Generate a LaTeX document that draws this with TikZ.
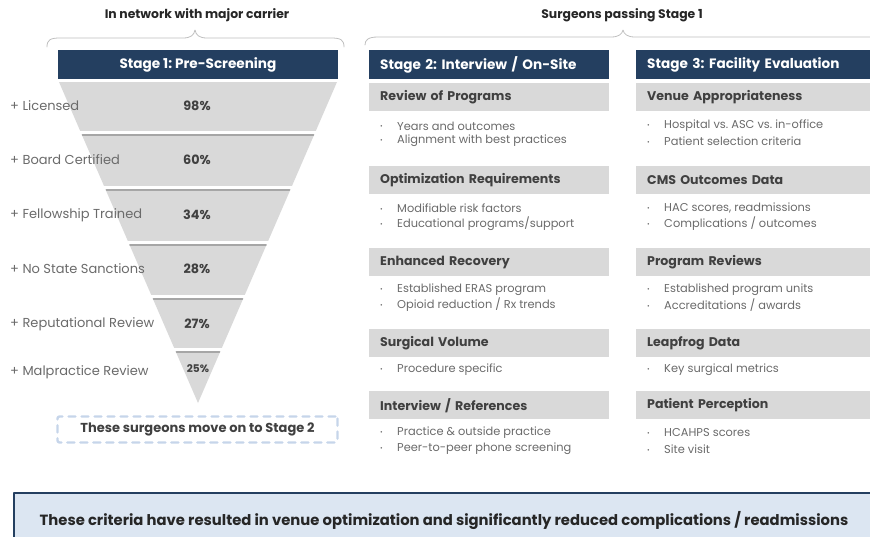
\documentclass[tikz,border=0pt]{standalone}
\usepackage{fontspec}
\setmainfont{Poppins}
\usepackage{xcolor}
\usepackage{tikz}
\usetikzlibrary{positioning}
\frenchspacing
\definecolor{navy}{HTML}{243F60}
\definecolor{panel}{HTML}{D9D9D9}
\definecolor{ink}{HTML}{404040}
\definecolor{soft}{HTML}{6A6A6A}
\definecolor{brace}{HTML}{BFBFBF}
\definecolor{dash}{HTML}{C6D5EA}
\definecolor{note}{HTML}{DCE6F2}
\tikzset{
  TopTitle/.style={font=\bfseries\fontsize{12.4}{14}\selectfont, text=black!85},
  StageHead/.style={fill=navy, text=white, font=\bfseries\fontsize{13.6}{15}\selectfont,
    minimum height=29pt, inner sep=0pt},
  SubHead/.style={fill=panel, text=ink, font=\bfseries\fontsize{12.6}{14}\selectfont,
    anchor=north west, minimum height=28pt, text width=218pt, inner xsep=11pt,
    inner ysep=0pt, align=left},
  Crit/.style={anchor=west, text=soft, font=\fontsize{13}{15}\selectfont, inner sep=0pt},
  Pct/.style={text=ink, font=\bfseries\fontsize{12.8}{14}\selectfont, inner sep=0pt},
  Item/.style={anchor=west, text=soft, font=\fontsize{11.4}{13}\selectfont, inner sep=0pt},
  Brace/.style={draw=brace, line width=0.8pt}
}
\newcommand{\BulletItem}[4]{%
  % #1 = node name, #2 = x of bullet, #3 = y, #4 = text
  \node[Item] (#1) at (#2,#3) {\makebox[17pt][l]{\raisebox{1.2pt}{\fontsize{6.5}{6}\selectfont\textbullet}}#4};
}

\begin{document}
\begin{tikzpicture}[x=1pt, y=-1pt, line cap=round, line join=round]
  \useasboundingbox (0,0) rectangle (870,536);

  % column titles and braces
  \node[TopTitle] (net) at (197,15) {In network with major carrier};
  \node[TopTitle] (pass) at (622,15) {Surgeons passing Stage 1};
  \draw[Brace] (47,47) .. controls (47,40) and (50,38) .. (60,38) -- (183,38)
    .. controls (191,38) and (194,35) .. (195,30) .. controls (196,35) and (199,38) .. (207,38)
    -- (331,38) .. controls (341,38) and (344,40) .. (344,47);
  \draw[Brace] (365,45) .. controls (365,40) and (368,37) .. (378,37) -- (611,37)
    .. controls (619,37) and (622,34) .. (623,30) .. controls (624,34) and (627,37) .. (635,37)
    -- (875,37);

  % stage 1 funnel
  \node[StageHead, minimum width=280pt] (s1) at (198,64.5) {Stage 1: Pre-Screening};
  \coordinate (TL) at (59,82);
  \coordinate (TR) at (337,82);
  \coordinate (tip) at (198,403);
  \fill[panel] (TL) -- (TR) -- (tip) -- cycle;
  % gaps between the funnel bands
  \draw[gray!70, line width=1.4pt] (82.5,135) -- (313.5,135);
  \draw[white, line width=2.4pt] (80,132.5) -- (317,132.5);
  \draw[gray!70, line width=1.4pt] (106.5,190) -- (289.5,190);
  \draw[white, line width=2.4pt] (104,187.5) -- (293,187.5);
  \draw[gray!70, line width=1.4pt] (130,245) -- (266,245);
  \draw[white, line width=2.4pt] (128,242.5) -- (269,242.5);
  \draw[gray!70, line width=1.4pt] (153.5,299) -- (242.5,299);
  \draw[white, line width=2.4pt] (151,296.5) -- (245,296.5);
  \draw[gray!70, line width=1.4pt] (176.5,352) -- (219.5,352);
  \draw[white, line width=2.4pt] (173,349.5) -- (222,349.5);

  \node[Crit] (lic) at (10,106) {+ Licensed};
  \node[Crit] (board) at (10,160) {+ Board Certified};
  \node[Crit] (fell) at (10,215) {+ Fellowship Trained};
  \node[Crit] (sanc) at (10,269) {+ No State Sanctions};
  \node[Crit] (rep) at (10,324) {+ Reputational Review};
  \node[Crit] (mal) at (10,372) {+ Malpractice Review};

  \node[Pct] (p98) at (197,106) {98\%};
  \node[Pct] (p60) at (197,160) {60\%};
  \node[Pct] (p34) at (197,215) {34\%};
  \node[Pct] (p28) at (197,269) {28\%};
  \node[Pct] (p27) at (197,324) {27\%};
  \node[Pct, font=\bfseries\fontsize{10.6}{12}\selectfont] (p25) at (198,369) {25\%};

  \node[draw=dash, line width=2.4pt, dash pattern=on 7pt off 6pt, rounded corners=2pt,
    minimum width=280pt, minimum height=26pt, text=ink,
    font=\bfseries\fontsize{13}{15}\selectfont] (move) at (197.5,429.5)
    {These surgeons move on to Stage 2};

  % stage 2 column
  \node[StageHead, SubHead, fill=navy, text=white, minimum height=29pt,
    font=\bfseries\fontsize{13.6}{15}\selectfont] (s2) at (369,50) {Stage 2: Interview / On-Site};
  \node[SubHead] (prog) at (369,83) {Review of Programs};
  \BulletItem{prog1}{380}{126}{Years and outcomes}
  \BulletItem{prog2}{380}{141}{Alignment with best practices}
  \node[SubHead] (opt) at (369,166) {Optimization Requirements};
  \BulletItem{opt1}{380}{208}{Modifiable risk factors}
  \BulletItem{opt2}{380}{224}{Educational programs/support}
  \node[SubHead] (eras) at (369,248) {Enhanced Recovery};
  \BulletItem{eras1}{380}{290}{Established ERAS program}
  \BulletItem{eras2}{380}{305}{Opioid reduction / Rx trends}
  \node[SubHead] (vol) at (369,329) {Surgical Volume};
  \BulletItem{vol1}{380}{370}{Procedure specific}
  \node[SubHead] (refs) at (369,391) {Interview / References};
  \BulletItem{refs1}{380}{433}{Practice \& outside practice}
  \BulletItem{refs2}{380}{449}{Peer-to-peer phone screening}

  % stage 3 column
  \node[StageHead, SubHead, fill=navy, text=white, minimum height=29pt,
    font=\bfseries\fontsize{13.6}{15}\selectfont] (s3) at (636,50) {Stage 3: Facility Evaluation};
  \node[SubHead] (venue) at (636,83) {Venue Appropriateness};
  \BulletItem{venue1}{647}{126}{Hospital vs. ASC vs. in-office}
  \BulletItem{venue2}{647}{141}{Patient selection criteria}
  \node[SubHead] (cms) at (636,166) {CMS Outcomes Data};
  \BulletItem{cms1}{647}{208}{HAC scores, readmissions}
  \BulletItem{cms2}{647}{224}{Complications / outcomes}
  \node[SubHead] (rev) at (636,248) {Program Reviews};
  \BulletItem{rev1}{647}{290}{Established program units}
  \BulletItem{rev2}{647}{305}{Accreditations / awards}
  \node[SubHead] (leap) at (636,329) {Leapfrog Data};
  \BulletItem{leap1}{647}{370}{Key surgical metrics}
  \node[SubHead] (perc) at (636,391) {Patient Perception};
  \BulletItem{perc1}{647}{433}{HCAHPS scores}
  \BulletItem{perc2}{647}{449}{Site visit}

  % result banner
  \fill[note] (14,493) rectangle (880,545);
  \draw[navy, line width=1.2pt, line cap=butt] (880,493) -- (14,493) -- (14,545);
  \node[text=black!85, font=\bfseries\fontsize{14.8}{16}\selectfont] (result) at (444,520)
    {These criteria have resulted in venue optimization and significantly reduced complications / readmissions};
\end{tikzpicture}
\end{document}
